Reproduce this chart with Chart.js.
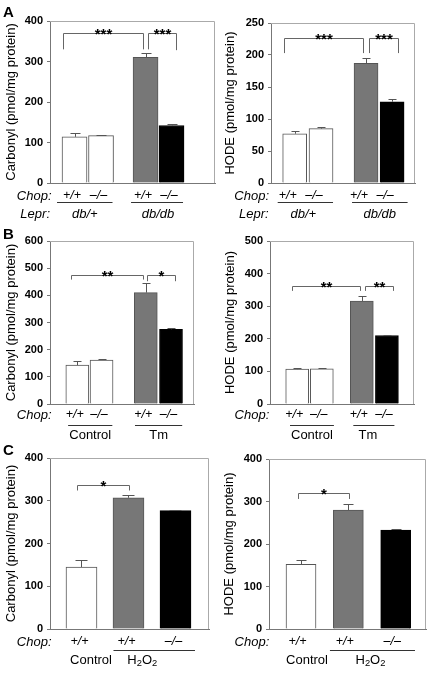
<!DOCTYPE html>
<html>
<head>
<meta charset="utf-8">
<script src="https://cdn.jsdelivr.net/npm/chart.js@4.4.1/dist/chart.umd.min.js"></script>
<style>
  html, body { margin: 0; padding: 0; background: #fff; }
  #fig { position: relative; width: 432px; height: 673px; overflow: hidden; }
  #fig canvas { position: absolute; }
</style>
</head>
<body>
<div id="fig">
  <canvas id="carbonylLeprChart"></canvas>
  <canvas id="hodeLeprChart"></canvas>
  <canvas id="carbonylTmChart"></canvas>
  <canvas id="hodeTmChart"></canvas>
  <canvas id="carbonylH2O2Chart"></canvas>
  <canvas id="hodeH2O2Chart"></canvas>
</div>
<script>
// ---- data ----
const chopLepr = ['+/+', '–/–', '+/+', '–/–'];
const leprGroups = ['db/+', 'db/db'];
const carbonylLepr = [114, 117, 310, 142];
const carbonylLeprErr = [10, 2, 10, 3];
const hodeLepr = [77, 85, 187, 127];
const hodeLeprErr = [4, 3, 9, 5];
const sigLepr = ['***', '***'];

const chopTm = ['+/+', '–/–', '+/+', '–/–'];
const tmGroups = ['Control', 'Tm'];
const carbonylTm = [143, 162, 410, 275];
const carbonylTmErr = [15, 3, 34, 3];
const hodeTm = [107, 108, 316, 210];
const hodeTmErr = [2, 3, 16, 2];
const sigCarbonylTm = ['**', '*'];
const sigHodeTm = ['**', '**'];

const chopH2O2 = ['+/+', '+/+', '–/–'];
const h2o2Groups = ['Control', 'H₂O₂'];
const carbonylH2O2 = [145, 307, 277];
const carbonylH2O2Err = [17, 6, 2];
const hodeH2O2 = [152, 280, 233];
const hodeH2O2Err = [11, 13, 3];
const sigH2O2 = ['*'];

const fourBarColors = ['#ffffff', '#ffffff', '#777777', '#000000'];
const threeBarColors = ['#ffffff', '#777777', '#000000'];

const FONT = '"Liberation Sans", Arial, Helvetica, sans-serif';

// draw a string, rendering unicode subscript digits as small lowered digits
function drawRich(ctx, str, cx, cy, size, style) {
  const parts = Array.from(str).map(ch => {
    const code = ch.charCodeAt(0);
    if (code >= 0x2080 && code <= 0x2089) return { t: String(code - 0x2080), sub: true };
    return { t: ch, sub: false };
  });
  let total = 0;
  parts.forEach(p => {
    ctx.font = style + ' ' + (p.sub ? size * 0.72 : size) + 'px ' + FONT;
    p.w = ctx.measureText(p.t).width;
    total += p.w;
  });
  let x = cx - total / 2;
  ctx.textAlign = 'left';
  ctx.textBaseline = 'middle';
  parts.forEach(p => {
    ctx.font = style + ' ' + (p.sub ? size * 0.72 : size) + 'px ' + FONT;
    ctx.fillText(p.t, x, p.sub ? cy + size * 0.3 : cy);
    x += p.w;
  });
}

const panelDecor = {
  id: 'panelDecor',
  afterDatasetsDraw(chart, args, opts) {
    const ctx = chart.ctx;
    const ys = chart.scales.y;
    const meta = chart.getDatasetMeta(0);
    ctx.save();
    ctx.strokeStyle = '#555';
    ctx.lineWidth = 1;
    meta.data.forEach((bar, i) => {
      const top = Math.round(ys.getPixelForValue(opts.values[i] + opts.errors[i])) + 0.5;
      const x = Math.round(bar.x) + 0.5;
      const cap = Math.round(bar.width * 0.18);
      ctx.beginPath();
      ctx.moveTo(x, bar.y);
      ctx.lineTo(x, top);
      ctx.moveTo(x - cap, top);
      ctx.lineTo(x + cap, top);
      ctx.stroke();
    });
    ctx.restore();
  },
  afterDraw(chart, args, opts) {
    const ctx = chart.ctx;
    const a = chart.chartArea;
    const ys = chart.scales.y;
    const meta = chart.getDatasetMeta(0);
    const bx = i => meta.data[i].x;
    const bw = i => meta.data[i].width;
    ctx.save();

    // top and right edges of the frame
    ctx.strokeStyle = '#aaa';
    ctx.lineWidth = 1;
    ctx.beginPath();
    ctx.moveTo(a.left, Math.round(a.top) + 0.5);
    ctx.lineTo(Math.round(a.right) - 0.5, Math.round(a.top) + 0.5);
    ctx.lineTo(Math.round(a.right) - 0.5, a.bottom);
    ctx.stroke();

    // significance brackets
    ctx.strokeStyle = '#666';
    ctx.fillStyle = '#000';
    opts.brackets.forEach((b, k) => {
      const x1 = Math.round(bx(b.from) + b.dx1) + 0.5;
      const x2 = Math.round(bx(b.to) + b.dx2) + 0.5;
      const yt = Math.round(ys.getPixelForValue(b.top)) + 0.5;
      ctx.beginPath();
      ctx.moveTo(x1, ys.getPixelForValue(b.leg1));
      ctx.lineTo(x1, yt);
      ctx.lineTo(x2, yt);
      ctx.lineTo(x2, ys.getPixelForValue(b.leg2));
      ctx.stroke();
      ctx.font = 'bold 15px ' + FONT;
      ctx.textAlign = 'center';
      ctx.textBaseline = 'alphabetic';
      ctx.fillText(opts.sig[k], (x1 + x2) / 2, yt + 5);
    });

    // genotype row
    ctx.fillStyle = '#000';
    ctx.textBaseline = 'middle';
    ctx.font = 'italic 13px ' + FONT;
    ctx.textAlign = 'right';
    const chopY = a.bottom + opts.chopDy;
    ctx.fillText('Chop:', a.left + opts.chopDx, chopY);
    ctx.font = 'italic 12.5px ' + FONT;
    ctx.textAlign = 'center';
    opts.chop.forEach((g, i) => ctx.fillText(g, bx(i) + opts.genoDx, chopY));

    // group lines and group names
    const lineY = Math.round(a.bottom + opts.lineDy) + 0.5;
    const groupY = a.bottom + opts.groupDy;
    if (opts.rowLabel) {
      ctx.font = 'italic 13px ' + FONT;
      ctx.textAlign = 'right';
      ctx.fillText(opts.rowLabel, a.left + opts.rowDx, groupY);
    }
    ctx.strokeStyle = '#333';
    opts.groups.forEach((g, k) => {
      const first = g.bars[0], last = g.bars[g.bars.length - 1];
      const l = bx(first) - bw(first) / 2 + g.ext[0];
      const r = bx(last) + bw(last) / 2 + g.ext[1];
      if (g.line) {
        ctx.beginPath();
        ctx.moveTo(l, lineY);
        ctx.lineTo(r, lineY);
        ctx.stroke();
      }
      ctx.fillStyle = '#000';
      drawRich(ctx, opts.groupNames[k], (l + r) / 2 + g.dx, groupY, 13, opts.groupItalic ? 'italic' : 'normal');
    });

    // panel letter
    if (opts.letter) {
      ctx.font = 'bold 15px ' + FONT;
      ctx.textAlign = 'left';
      ctx.textBaseline = 'alphabetic';
      ctx.fillStyle = '#000';
      ctx.fillText(opts.letter, 3, opts.letterY);
    }
    ctx.restore();
  }
};

function makePanel(id, p) {
  const canvas = document.getElementById(id);
  const c = p.canvas, a = p.area;
  canvas.width = c.w;
  canvas.height = c.h;
  canvas.style.left = c.x + 'px';
  canvas.style.top = c.y + 'px';
  canvas.style.width = c.w + 'px';
  canvas.style.height = c.h + 'px';

  const yWidth = a.left - c.x - p.titleLeft;
  const xHeight = c.y + c.h - a.bottom;

  new Chart(canvas.getContext('2d'), {
    type: 'bar',
    data: {
      datasets: [{
        data: p.values.map((v, i) => ({ x: p.slots[i], y: v })),
        backgroundColor: p.colors,
        borderColor: p.colors.map(col => col === '#000000' ? '#000' : '#555'),
        borderWidth: 1,
        barThickness: p.barW
      }]
    },
    options: {
      responsive: false,
      animation: false,
      devicePixelRatio: 1,
      layout: {
        autoPadding: false,
        padding: { top: a.top - c.y, right: c.x + c.w - a.right, left: p.titleLeft, bottom: 0 }
      },
      plugins: {
        legend: { display: false },
        tooltip: { enabled: false },
        panelDecor: p.decor
      },
      scales: {
        x: {
          type: 'linear',
          min: p.xMin,
          max: p.xMax,
          offset: false,
          bounds: 'data',
          ticks: { display: false },
          grid: { display: false, offset: false },
          border: { display: true, color: '#777' },
          afterFit: s => { s.height = xHeight; }
        },
        y: {
          min: 0,
          max: p.yMax,
          ticks: {
            stepSize: p.yStep,
            padding: 4,
            color: '#000',
            font: { family: FONT, size: 11, weight: 'bold' }
          },
          grid: { drawOnChartArea: false, tickLength: 3, color: '#777' },
          border: { display: true, color: '#777' },
          title: {
            display: true,
            text: p.title,
            color: '#000',
            font: { family: FONT, size: 13 },
            padding: { top: 4, bottom: 4 }
          },
          afterFit: s => { s.width = yWidth; }
        }
      }
    },
    plugins: [panelDecor]
  });
}

const rowA = { y: 0, h: 224 }, rowB = { y: 224, h: 219 }, rowC = { y: 443, h: 230 };

makePanel('carbonylLeprChart', {
  canvas: { x: 0, y: rowA.y, w: 216, h: rowA.h },
  area: { left: 50, top: 21, right: 215, bottom: 183 },
  titleLeft: 0, title: 'Carbonyl (pmol/mg protein)', yMax: 400, yStep: 100,
  slots: [0, 1, 2.68, 3.66], xMin: -0.925, xMax: 5.3, barW: 25,
  values: carbonylLepr, colors: fourBarColors,
  decor: {
    values: carbonylLepr, errors: carbonylLeprErr, sig: sigLepr,
    brackets: [
      { from: 0, to: 2, dx1: -11.5, dx2: -3, top: 370, leg1: 330, leg2: 330 },
      { from: 2, to: 3, dx1: 2, dx2: 4, top: 370, leg1: 330, leg2: 328 }
    ],
    chop: chopLepr, chopDx: 1.5, chopDy: 13, genoDx: -2.5,
    lineDy: 18.7, groupDy: 31.5, rowLabel: 'Lepr:', rowDx: 0,
    groupNames: leprGroups, groupItalic: true,
    groups: [
      { bars: [0, 1], line: true, ext: [-5, -1], dx: 0 },
      { bars: [2, 3], line: true, ext: [-2, -1], dx: 1 }
    ],
    letter: 'A', letterY: 17
  }
});

makePanel('hodeLeprChart', {
  canvas: { x: 216, y: rowA.y, w: 216, h: rowA.h },
  area: { left: 271, top: 23, right: 415, bottom: 183 },
  titleLeft: 3, title: 'HODE (pmol/mg protein)', yMax: 250, yStep: 50,
  slots: [0, 1, 2.71, 3.7], xMin: -0.9, xMax: 4.57, barW: 24,
  values: hodeLepr, colors: fourBarColors,
  decor: {
    values: hodeLepr, errors: hodeLeprErr, sig: sigLepr,
    brackets: [
      { from: 0, to: 2, dx1: -10.7, dx2: -3.3, top: 226, leg1: 203, leg2: 203 },
      { from: 2, to: 3, dx1: 3, dx2: 5.7, top: 226, leg1: 203, leg2: 203 }
    ],
    chop: chopLepr, chopDx: -2, chopDy: 13, genoDx: -7,
    lineDy: 18.7, groupDy: 31.5, rowLabel: 'Lepr:', rowDx: -2.3,
    groupNames: leprGroups, groupItalic: true,
    groups: [
      { bars: [0, 1], line: true, ext: [-5, 0], dx: -2 },
      { bars: [2, 3], line: true, ext: [-2, 3.5], dx: 0 }
    ]
  }
});

makePanel('carbonylTmChart', {
  canvas: { x: 0, y: rowB.y, w: 216, h: rowB.h },
  area: { left: 50, top: 241, right: 194, bottom: 404 },
  titleLeft: 0, title: 'Carbonyl (pmol/mg protein)', yMax: 600, yStep: 100,
  slots: [0, 0.98, 2.77, 3.79], xMin: -1.105, xMax: 4.72, barW: 23,
  values: carbonylTm, colors: fourBarColors,
  decor: {
    values: carbonylTm, errors: carbonylTmErr, sig: sigCarbonylTm,
    brackets: [
      { from: 0, to: 2, dx1: -6.6, dx2: -3.1, top: 476, leg1: 458, leg2: 458 },
      { from: 2, to: 3, dx1: 1.2, dx2: 3.7, top: 476, leg1: 452, leg2: 452 }
    ],
    chop: chopTm, chopDx: 1.5, chopDy: 11, genoDx: -2.5,
    lineDy: 21, groupDy: 31.7, rowLabel: null,
    groupNames: tmGroups, groupItalic: false,
    groups: [
      { bars: [0, 1], line: true, ext: [2.3, -0.7], dx: 0 },
      { bars: [2, 3], line: true, ext: [0.7, -0.3], dx: 0 }
    ],
    letter: 'B', letterY: 238.5 - 224
  }
});

makePanel('hodeTmChart', {
  canvas: { x: 216, y: rowB.y, w: 216, h: rowB.h },
  area: { left: 270, top: 241, right: 414, bottom: 404 },
  titleLeft: 3, title: 'HODE (pmol/mg protein)', yMax: 500, yStep: 100,
  slots: [0, 0.99, 2.6, 3.61], xMin: -1.095, xMax: 4.7, barW: 23,
  values: hodeTm, colors: fourBarColors,
  decor: {
    values: hodeTm, errors: hodeTmErr, sig: sigHodeTm,
    brackets: [
      { from: 0, to: 2, dx1: -5.2, dx2: -1.7, top: 362, leg1: 347, leg2: 347 },
      { from: 2, to: 3, dx1: 3.3, dx2: 5.8, top: 362, leg1: 347, leg2: 347 }
    ],
    chop: chopTm, chopDx: -0.7, chopDy: 11, genoDx: -3,
    lineDy: 21, groupDy: 31.7, rowLabel: null,
    groupNames: tmGroups, groupItalic: false,
    groups: [
      { bars: [0, 1], line: true, ext: [4.3, 0.6], dx: 0 },
      { bars: [2, 3], line: true, ext: [3, -4], dx: -6 }
    ]
  }
});

makePanel('carbonylH2O2Chart', {
  canvas: { x: 0, y: rowC.y, w: 216, h: rowC.h },
  area: { left: 50, top: 458, right: 209, bottom: 629 },
  titleLeft: 0, title: 'Carbonyl (pmol/mg protein)', yMax: 400, yStep: 100,
  slots: [0, 1, 2], xMin: -0.67, xMax: 2.713, barW: 31,
  values: carbonylH2O2, colors: threeBarColors,
  decor: {
    values: carbonylH2O2, errors: carbonylH2O2Err, sig: sigH2O2,
    brackets: [
      { from: 0, to: 1, dx1: -4.2, dx2: 0.3, top: 337, leg1: 324, leg2: 324 }
    ],
    chop: chopH2O2, chopDx: 1.5, chopDy: 13, genoDx: -2,
    lineDy: 21, groupDy: 31, rowLabel: null,
    groupNames: h2o2Groups, groupItalic: false,
    groups: [
      { bars: [0], line: false, ext: [0, 0], dx: 9.5 },
      { bars: [1, 2], line: true, ext: [0.5, 4], dx: -12 }
    ],
    letter: 'C', letterY: 455 - 443
  }
});

makePanel('hodeH2O2Chart', {
  canvas: { x: 216, y: rowC.y, w: 216, h: rowC.h },
  area: { left: 269, top: 459, right: 426, bottom: 629 },
  titleLeft: 1.5, title: 'HODE (pmol/mg protein)', yMax: 400, yStep: 100,
  slots: [0, 1, 2], xMin: -0.676, xMax: 2.64, barW: 30,
  values: hodeH2O2, colors: threeBarColors,
  decor: {
    values: hodeH2O2, errors: hodeH2O2Err, sig: sigH2O2,
    brackets: [
      { from: 0, to: 1, dx1: -3.3, dx2: 1, top: 319, leg1: 306, leg2: 306 }
    ],
    chop: chopH2O2, chopDx: 0.3, chopDy: 13, genoDx: -3.5,
    lineDy: 21, groupDy: 31, rowLabel: null,
    groupNames: h2o2Groups, groupItalic: false,
    groups: [
      { bars: [0], line: false, ext: [0, 0], dx: 6 },
      { bars: [1, 2], line: true, ext: [-3.4, 4.3], dx: -2 }
    ]
  }
});
</script>
</body>
</html>
